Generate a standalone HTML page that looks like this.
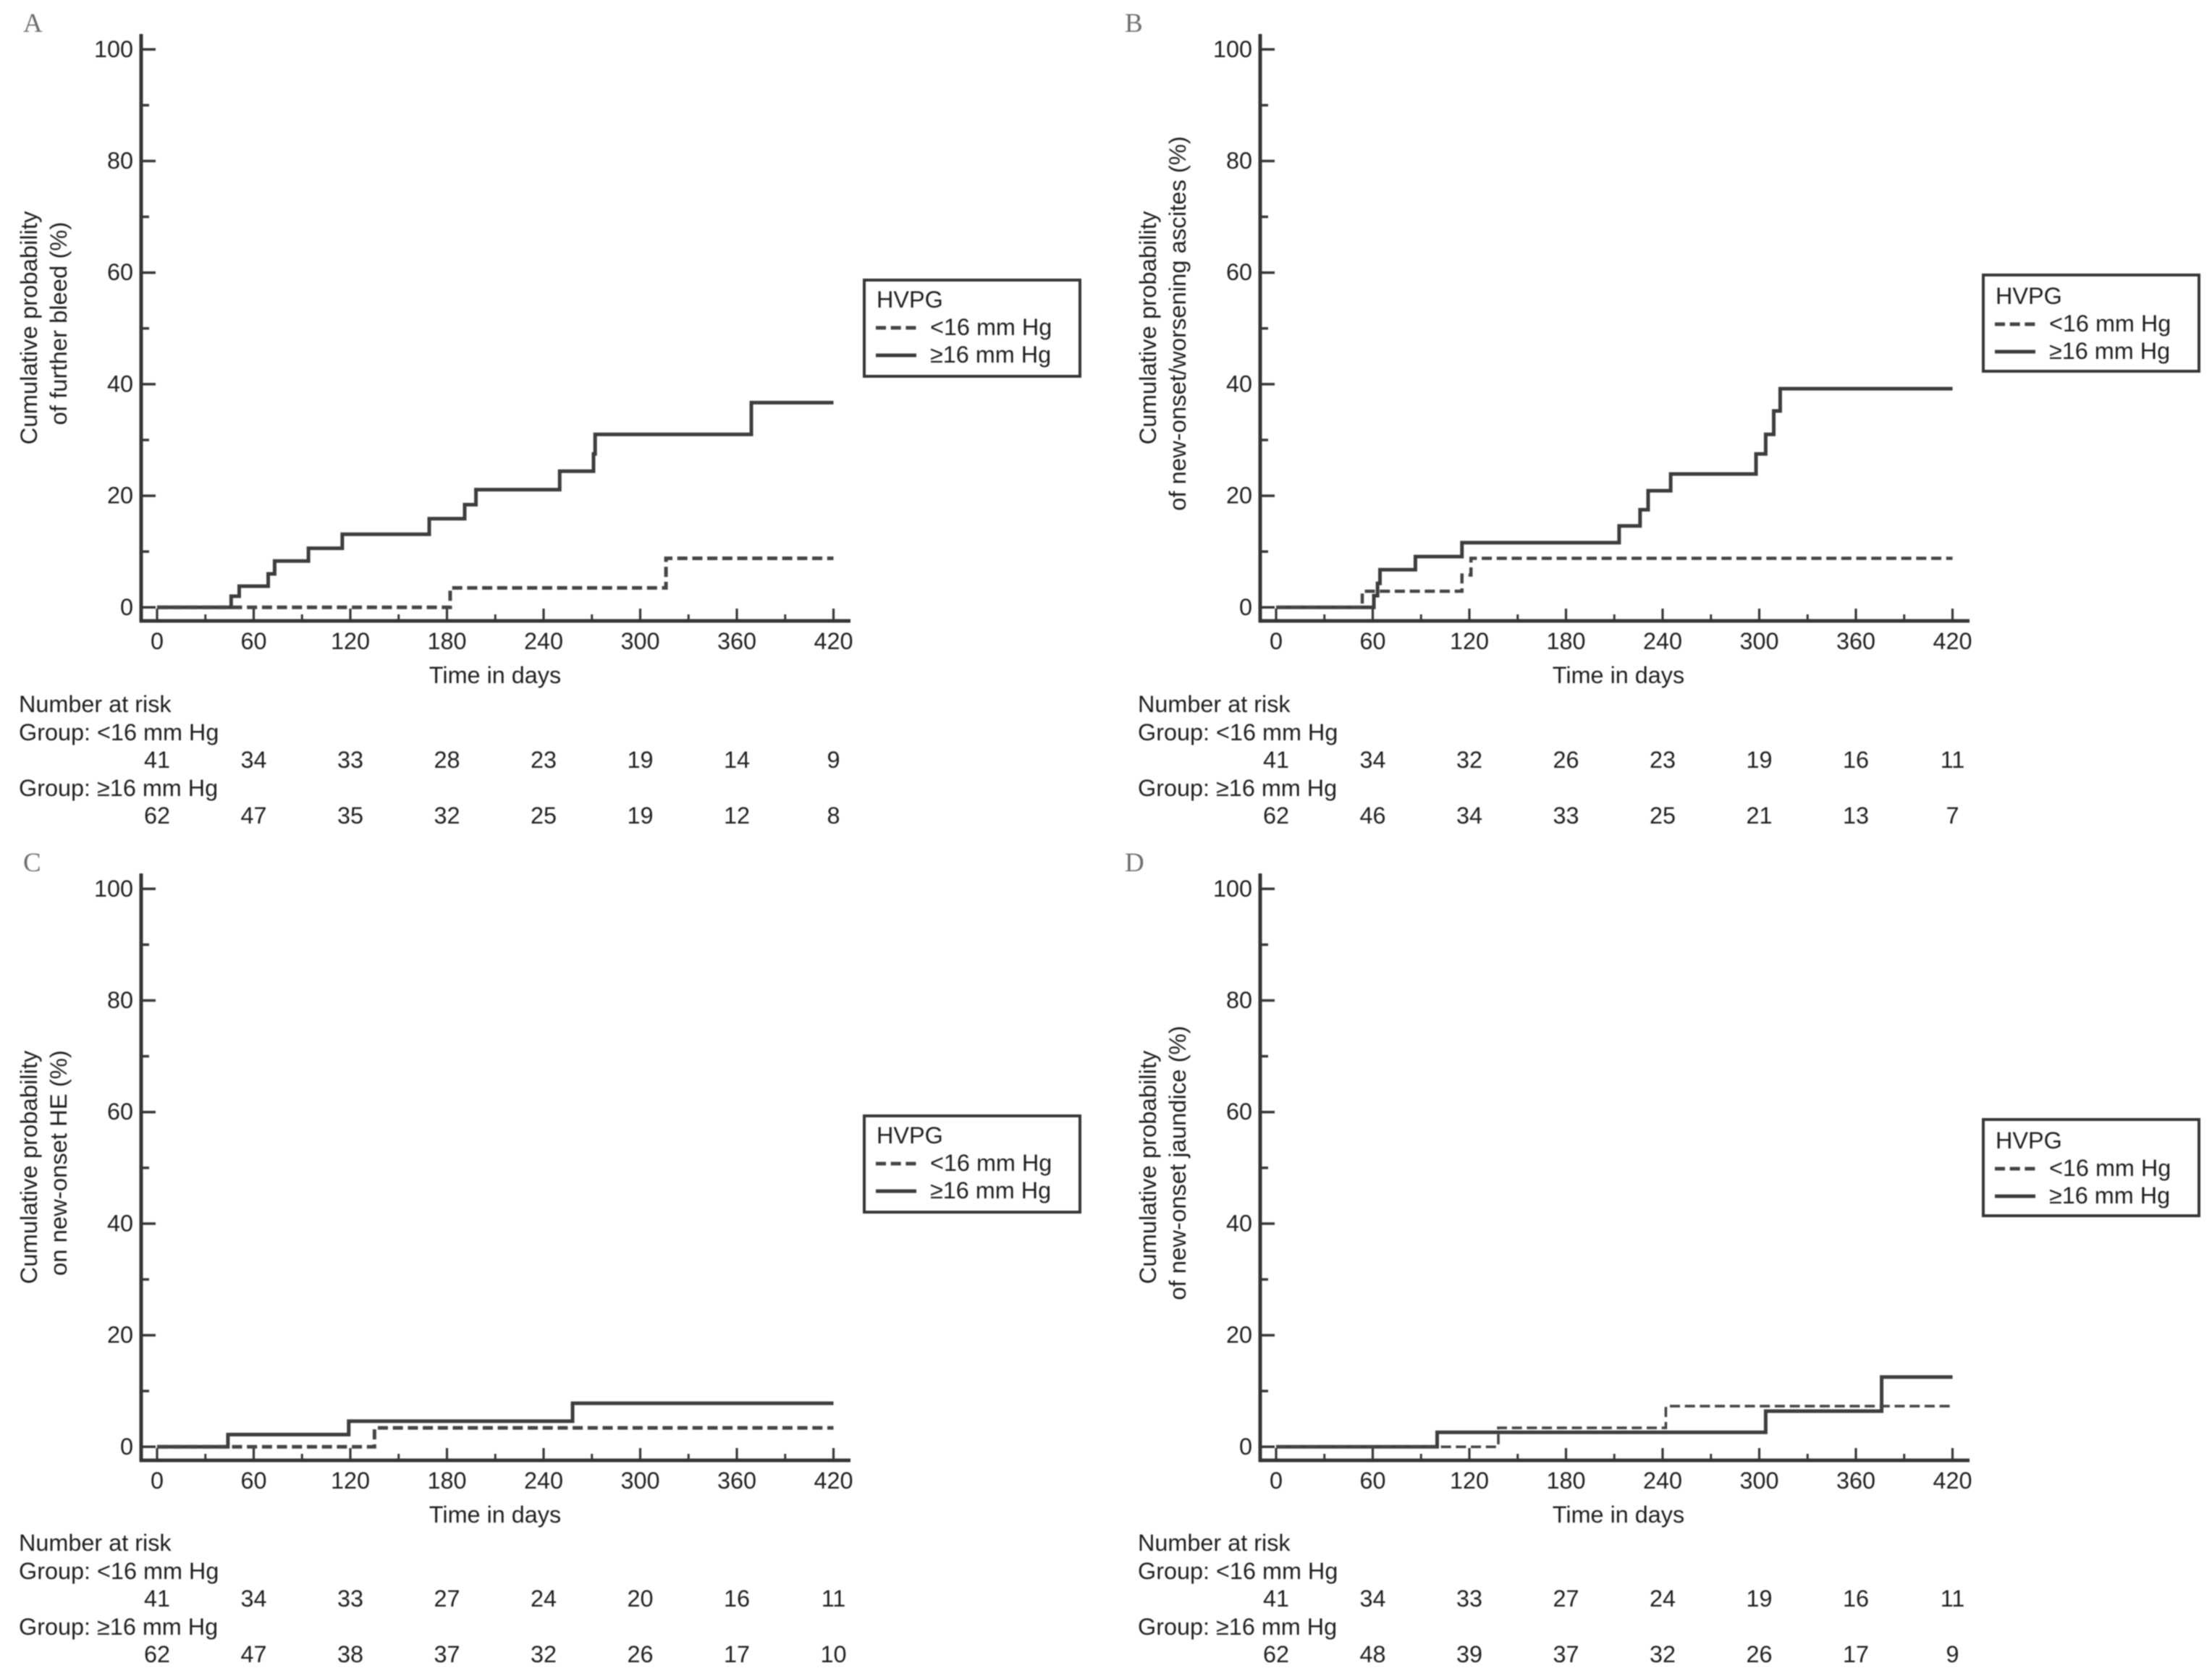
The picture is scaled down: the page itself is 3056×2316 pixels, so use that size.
<!DOCTYPE html>
<html lang="en">
<head>
<meta charset="utf-8">
<title>Cumulative probability of decompensation events by HVPG</title>
<style>
  html, body { margin: 0; padding: 0; background: #ffffff; width: 3056px; height: 2316px; overflow: hidden; }
  svg { display: block; filter: blur(0.7px); }
  text { font-family: "Liberation Sans", Arial, sans-serif; font-size: 32.4px; fill: #1f1f1f; }
  .rotated-title { font-size: 32.8px; }
  .panel-letter { font-family: "Liberation Serif", serif; font-size: 37px; fill: #6e6e6e; }
</style>
</head>
<body>
<svg id="figure" xmlns="http://www.w3.org/2000/svg" width="3056" height="2316" viewBox="0 0 3056 2316">
  <rect x="0" y="0" width="3056" height="2316" fill="#ffffff"></rect>
  <g id="panel-a"></g>
  <g id="panel-b"></g>
  <g id="panel-c"></g>
  <g id="panel-d"></g>
</svg>
<script>
// ---- shared tick values ----
const xTickValues = [0, 60, 120, 180, 240, 300, 360, 420];
const xMinorTickValues = [30, 90, 150, 210, 270, 330, 390];
const yTickValues = [0, 20, 40, 60, 80, 100];
const yMinorTickValues = [10, 30, 50, 70, 90];
const legendTitle = "HVPG";
const groupLow = "<16 mm Hg";
const groupHigh = "\u226516 mm Hg";

// ---- panel A ----
const aHighDays = [0, 46, 51, 69, 73, 94, 115, 169, 191, 198, 250, 271, 272, 369, 420];
const aHighProb = [0, 2.0, 3.8, 6.0, 8.3, 10.6, 13.1, 15.9, 18.4, 21.1, 24.4, 27.5, 31.0, 36.7, 36.7];
const aLowDays = [0, 182, 316, 420];
const aLowProb = [0, 3.5, 8.8, 8.8];
const aRiskLow = [41, 34, 33, 28, 23, 19, 14, 9];
const aRiskHigh = [62, 47, 35, 32, 25, 19, 12, 8];

// ---- panel B ----
const bHighDays = [0, 60.7, 63, 64.5, 86.5, 115.4, 213, 226, 231, 245, 298, 304, 309, 313, 420];
const bHighProb = [0, 2.1, 4.3, 6.75, 9.1, 11.6, 14.6, 17.5, 20.9, 23.9, 27.5, 31.0, 35.2, 39.2, 39.2];
const bLowDays = [0, 53.5, 115.4, 121, 420];
const bLowProb = [0, 2.9, 5.8, 8.8, 8.8];
const bRiskLow = [41, 34, 32, 26, 23, 19, 16, 11];
const bRiskHigh = [62, 46, 34, 33, 25, 21, 13, 7];

// ---- panel C ----
const cHighDays = [0, 44, 119, 258, 420];
const cHighProb = [0, 2.2, 4.6, 7.8, 7.8];
const cLowDays = [0, 135, 420];
const cLowProb = [0, 3.4, 3.4];
const cRiskLow = [41, 34, 33, 27, 24, 20, 16, 11];
const cRiskHigh = [62, 47, 38, 37, 32, 26, 17, 10];

// ---- panel D ----
const dHighDays = [0, 100, 304, 376, 420];
const dHighProb = [0, 2.6, 6.4, 12.5, 12.5];
const dLowDays = [0, 138, 242, 420];
const dLowProb = [0, 3.4, 7.3, 7.3];
const dRiskLow = [41, 34, 33, 27, 24, 19, 16, 11];
const dRiskHigh = [62, 48, 39, 37, 32, 26, 17, 9];

const SVG_NS = "http://www.w3.org/2000/svg";
const INK = "#363636";

function make(tag, attrs, parent) {
  const node = document.createElementNS(SVG_NS, tag);
  for (const key in attrs) node.setAttribute(key, attrs[key]);
  parent.appendChild(node);
  return node;
}

function drawPanel(cfg) {
  const root = document.getElementById(cfg.id);
  const ox = cfg.ox, oy = cfg.oy;
  const xScale = d => ox + 217 + d * (133.5 / 60);
  const yScale = p => oy + 839.3 - p * 7.71;
  const rowShift = cfg.rowShift;

  // panel letter
  const letter = make("text", { x: ox + cfg.letterX, y: oy + 44, class: "panel-letter" }, root);
  
  
  letter.textContent = cfg.letter;

  // y axis title
  const titleA = make("text", { class: "rotated-title", transform: "translate(" + (ox + 51) + "," + (oy + 453) + ") rotate(-90)", "text-anchor": "middle" }, root);
  
  
  titleA.textContent = cfg.yTitle1;
  const titleB = make("text", { class: "rotated-title", transform: "translate(" + (ox + 92) + "," + (oy + 447) + ") rotate(-90)", "text-anchor": "middle" }, root);
  
  
  titleB.textContent = cfg.yTitle2;

  // y ticks and labels
  yTickValues.forEach(v => {
    const tick = make("line", { x1: ox + 195, x2: ox + 215, y1: yScale(v), y2: yScale(v), stroke: INK, "stroke-width": 3.5 }, root);
    
    
    const label = make("text", { x: ox + 184, y: yScale(v) + 10.5, "text-anchor": "end" }, root);
    
    
    label.textContent = v;
  });
  yMinorTickValues.forEach(v => {
    const tick = make("line", { x1: ox + 195, x2: ox + 206, y1: yScale(v), y2: yScale(v), stroke: INK, "stroke-width": 3.5 }, root);
    
    
  });

  // x ticks and labels
  xTickValues.forEach(v => {
    const tick = make("line", { x1: xScale(v), x2: xScale(v), y1: oy + 841, y2: oy + 858, stroke: INK, "stroke-width": 3.2 }, root);
    
    
    const label = make("text", { x: xScale(v), y: oy + 897, "text-anchor": "middle" }, root);
    
    
    label.textContent = v;
  });
  xMinorTickValues.forEach(v => {
    const tick = make("line", { x1: xScale(v), x2: xScale(v), y1: oy + 849, y2: oy + 858, stroke: INK, "stroke-width": 3 }, root);
    
    
  });

  // axes
  const yAxis = make("line", { x1: ox + 195, x2: ox + 195, y1: oy + 47, y2: oy + 860, stroke: INK, "stroke-width": 5 }, root);
  
  
  const xAxis = make("line", { x1: ox + 193, x2: ox + 1175, y1: oy + 858, y2: oy + 858, stroke: INK, "stroke-width": 5 }, root);
  
  

  const xTitle = make("text", { x: ox + cfg.timeX, y: oy + 944, "text-anchor": "middle" }, root);
  
  
  xTitle.textContent = "Time in days";

  // step curves
  const stepPath = (days, prob) => {
    let d = "M" + xScale(days[0]) + " " + yScale(prob[0]);
    for (let i = 1; i < days.length; i++) {
      d += " H" + xScale(days[i]) + " V" + yScale(prob[i]);
    }
    return d;
  };
  const high = make("path", { d: stepPath(cfg.highDays, cfg.highProb), fill: "none", stroke: "#3d3d3d", "stroke-width": 5, "stroke-linejoin": "miter" }, root);
  
  
  const low = make("path", { d: stepPath(cfg.lowDays, cfg.lowProb), fill: "none", stroke: "#444444", "stroke-width": cfg.lowWidth, "stroke-dasharray": "14 6.7" }, root);
  
  

  // number at risk table
  const riskTitle = make("text", { x: ox + 26, y: oy + 983 + rowShift }, root);
  
  
  riskTitle.textContent = "Number at risk";
  const riskGroupLow = make("text", { x: ox + 26, y: oy + 1022 + rowShift }, root);
  
  
  riskGroupLow.textContent = "Group: " + groupLow;
  const riskGroupHigh = make("text", { x: ox + 26, y: oy + 1099 + rowShift }, root);
  
  
  riskGroupHigh.textContent = "Group: " + groupHigh;
  cfg.riskLow.forEach((n, i) => {
    const cell = make("text", { x: xScale(xTickValues[i]), y: oy + 1060 + rowShift, "text-anchor": "middle" }, root);
    
    
    cell.textContent = n;
  });
  cfg.riskHigh.forEach((n, i) => {
    const cell = make("text", { x: xScale(xTickValues[i]), y: oy + 1137 + rowShift, "text-anchor": "middle" }, root);
    
    
    cell.textContent = n;
  });

  // legend
  const lx = cfg.legendLeft, ly = cfg.legendTop, ld = cfg.legendTextShift;
  const box = make("rect", { x: lx, y: ly, width: 298, height: 133, fill: "#ffffff", stroke: INK, "stroke-width": 4 }, root);
  
  
  const legTitle = make("text", { x: lx + 17, y: ly + 38 + ld }, root);
  
  
  legTitle.textContent = legendTitle;
  const legDash = make("line", { x1: lx + 16, x2: lx + 72, y1: ly + 66 + ld, y2: ly + 66 + ld, stroke: "#444444", "stroke-width": 5, "stroke-dasharray": "14 6.7" }, root);
  
  
  const legLow = make("text", { x: lx + 91, y: ly + 76 + ld }, root);
  
  
  legLow.textContent = groupLow;
  const legSolid = make("line", { x1: lx + 16, x2: lx + 72, y1: ly + 104 + ld, y2: ly + 104 + ld, stroke: "#3d3d3d", "stroke-width": 5 }, root);
  
  
  const legHigh = make("text", { x: lx + 91, y: ly + 114 + ld }, root);
  
  
  legHigh.textContent = groupHigh;
}

drawPanel({ id: "panel-a", ox: 0, oy: 0, letter: "A", letterX: 32, legendLeft: 1194, legendTop: 387, legendTextShift: 0, lowWidth: 5, timeX: 684, rowShift: 1,
  yTitle1: "Cumulative probability", yTitle2: "of further bleed (%)",
  highDays: aHighDays, highProb: aHighProb, lowDays: aLowDays, lowProb: aLowProb, riskLow: aRiskLow, riskHigh: aRiskHigh });
drawPanel({ id: "panel-b", ox: 1546, oy: 0, letter: "B", letterX: 8, legendLeft: 2740, legendTop: 380, legendTextShift: 2, lowWidth: 4.5, timeX: 690, rowShift: 1,
  yTitle1: "Cumulative probability", yTitle2: "of new-onset/worsening ascites (%)",
  highDays: bHighDays, highProb: bHighProb, lowDays: bLowDays, lowProb: bLowProb, riskLow: bRiskLow, riskHigh: bRiskHigh });
drawPanel({ id: "panel-c", ox: 0, oy: 1160, letter: "C", letterX: 32, legendLeft: 1194, legendTop: 1542, legendTextShift: 0, lowWidth: 5, timeX: 684, rowShift: 0,
  yTitle1: "Cumulative probability", yTitle2: "on new-onset HE (%)",
  highDays: cHighDays, highProb: cHighProb, lowDays: cLowDays, lowProb: cLowProb, riskLow: cRiskLow, riskHigh: cRiskHigh });
drawPanel({ id: "panel-d", ox: 1546, oy: 1160, letter: "D", letterX: 8, legendLeft: 2740, legendTop: 1547, legendTextShift: 2, lowWidth: 3.6, timeX: 690, rowShift: 0,
  yTitle1: "Cumulative probability", yTitle2: "of new-onset jaundice (%)",
  highDays: dHighDays, highProb: dHighProb, lowDays: dLowDays, lowProb: dLowProb, riskLow: dRiskLow, riskHigh: dRiskHigh });
</script>
</body>
</html>
